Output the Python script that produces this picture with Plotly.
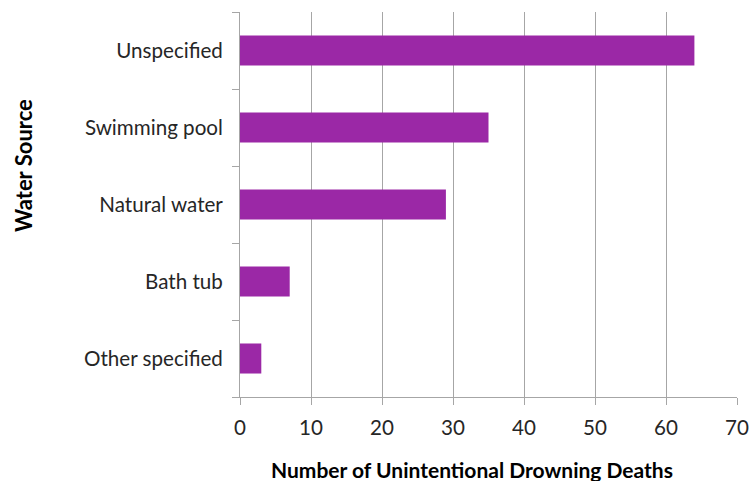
import plotly.graph_objects as go

categories = ["Other specified", "Bath tub", "Natural water", "Swimming pool", "Unspecified"]
deaths = [3, 7, 29, 35, 64]
x_ticks = [0, 10, 20, 30, 40, 50, 60, 70]

FONT = "Lato, Liberation Sans, sans-serif"
W, H = 753, 481
L, R, T, B = 240, 16, 12, 84
PW = W - L - R
PH = H - T - B

fig = go.Figure(go.Bar(
    y=categories, x=deaths, orientation="h",
    marker=dict(color="#9B28A6", line=dict(width=0)),
))

fig.update_layout(
    width=W, height=H,
    margin=dict(l=L, r=R, t=T, b=B, autoexpand=False),
    plot_bgcolor="white", paper_bgcolor="white",
    bargap=0.61, showlegend=False,
    font=dict(family=FONT, size=20.6, color="#262626"),
)
fig.update_xaxes(
    range=[0, 70], tickvals=x_ticks, showgrid=True, gridcolor="#A6A6A6", gridwidth=1,
    showline=True, linecolor="#A6A6A6", ticks="outside", ticklen=7, tickcolor="#A6A6A6",
    zeroline=False, ticklabelstandoff=5, automargin=False,
    tickfont=dict(size=20.6, family=FONT, color="#262626"),
)
fig.update_yaxes(
    showline=True, linecolor="#A6A6A6", ticks="outside", ticklen=7, tickcolor="#A6A6A6",
    tickson="boundaries", showgrid=False, ticklabelstandoff=12, automargin=False,
    tickfont=dict(size=20.6, family=FONT, color="#262626"),
)
fig.add_annotation(text="<b>Number of Unintentional Drowning Deaths</b>", xref="paper", yref="paper",
                   x=(472 - L) / PW, y=-(469 - (T + PH)) / PH, showarrow=False, yanchor="middle",
                   font=dict(size=21, family=FONT, color="#000000"))
fig.add_annotation(text="<b>Water Source</b>", xref="paper", yref="paper",
                   x=-(L - 23) / PW, y=(PH + T - 166) / PH, textangle=-90, showarrow=False,
                   xanchor="center", yanchor="middle",
                   font=dict(size=22, family=FONT, color="#000000"))

fig.write_html("out.html", config={"displayModeBar": False},
               post_script="document.body.style.margin='0';document.body.style.overflow='hidden';")
